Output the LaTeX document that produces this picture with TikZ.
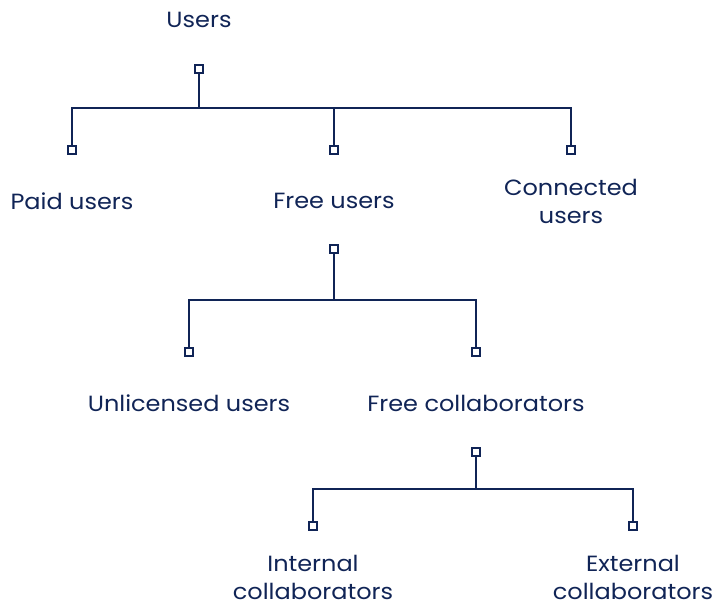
\documentclass[tikz,border=0pt]{standalone}
\usepackage{fontspec}
\setmainfont{Poppins}[FakeStretch=1.09]
\begin{document}
\definecolor{navy}{RGB}{16,36,86}
\begin{tikzpicture}[x=1pt,y=-1pt,
  label/.style={text=navy,font=\fontsize{22}{28}\selectfont,align=center,inner sep=0pt},
  port/.style={draw=navy,fill=white,line width=2.2pt,minimum size=8.5pt,inner sep=0pt},
  link/.style={draw=navy,line width=2pt}]
\useasboundingbox (0,0) rectangle (715,602);
% labels
\node[label] (users) at (199,20) {Users};
\node[label] (paid) at (72,201) {Paid users};
\node[label] (free) at (334,201) {Free users};
\node[label] (conn) at (571,201) {Connected\\users};
\node[label] (unlic) at (189,403) {Unlicensed users};
\node[label] (fcol) at (476,403) {Free collaborators};
\node[label] (intc) at (313,577) {Internal\\collaborators};
\node[label] (extc) at (633,577) {External\\collaborators};
% junction coordinates
\coordinate (j1) at (199,108);
\coordinate (j2) at (334,300);
\coordinate (j3) at (476,489);
% ports
\node[port] (pu) at (199,69) {};
\node[port] (pp) at (72,150) {};
\node[port] (pf) at (334,150) {};
\node[port] (pc) at (571,150) {};
\node[port] (pfo) at (334,249) {};
\node[port] (pul) at (189,352) {};
\node[port] (pfc) at (476,352) {};
\node[port] (pfco) at (476,452) {};
\node[port] (pin) at (313,526) {};
\node[port] (pex) at (633,526) {};
% connectors
\draw[link] (pu) -- (j1);
\draw[link] (pp) |- (j1) -| (pc);
\draw[link] (pf) -- (pf |- j1);
\draw[link] (pfo) -- (j2);
\draw[link] (pul) |- (j2) -| (pfc);
\draw[link] (pfco) -- (j3);
\draw[link] (pin) |- (j3) -| (pex);
\end{tikzpicture}
\end{document}
